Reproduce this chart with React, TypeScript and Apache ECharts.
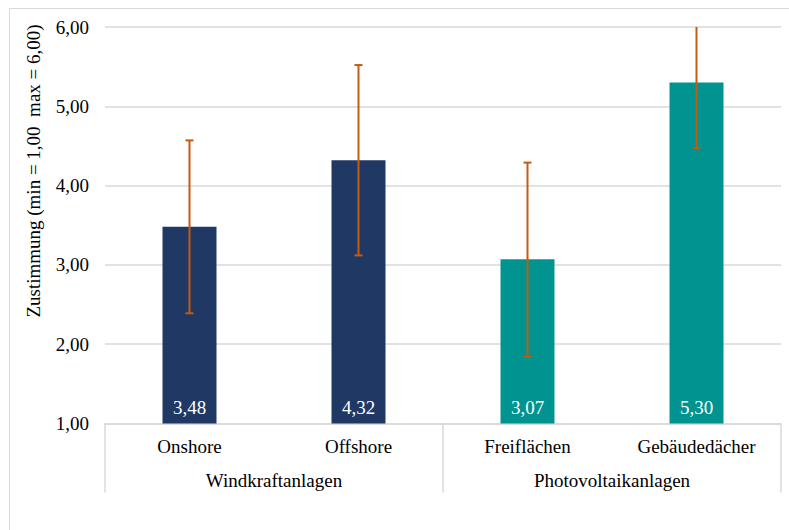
import React, { useEffect, useRef } from "react";
import * as echarts from "echarts";

const categories = ["Onshore", "Offshore", "Freiflächen", "Gebäudedächer"];
const groups = ["Windkraftanlagen", "Photovoltaikanlagen"];
const values = [3.48, 4.32, 3.07, 5.3];
const errLow = [2.39, 3.12, 1.84, 4.47];
const errHigh = [4.57, 5.52, 4.29, 6.13];
const barColors = ["#203864", "#203864", "#00938F", "#00938F"];
const yName = "Zustimmung (min = 1,00  max = 6,00)";
const Y_MIN = 1;
const Y_MAX = 6;

const FONT = "Liberation Serif";
const FS = 19;

export default function App() {
  const ref = useRef<HTMLDivElement>(null);
  useEffect(() => {
    if (!ref.current) return;
    const chart = echarts.init(ref.current, null, { renderer: "svg" });
    const fmt = (v: number) => v.toFixed(2).replace(".", ",");
    chart.setOption({
      animation: false,
      backgroundColor: "#ffffff",
      textStyle: { fontFamily: FONT },
      grid: { left: 105, right: 8, top: 27, bottom: 106.5, containLabel: false },
      graphic: [
        {
          type: "rect",
          shape: { x: 9.5, y: 8.5, width: 800, height: 600 },
          style: { fill: "none", stroke: "#d9d9d9", lineWidth: 1 },
          silent: true,
          z: -10,
        },
        {
          type: "text",
          x: 33,
          y: 171,
          rotation: Math.PI / 2,
          style: {
            text: yName,
            fontFamily: FONT,
            fontSize: FS,
            fill: "#000000",
            align: "center",
            verticalAlign: "middle",
          },
        },
      ],
      xAxis: [
        {
          type: "category",
          data: categories,
          position: "bottom",
          axisLine: { show: true, lineStyle: { color: "#d9d9d9", width: 1.5 } },
          axisTick: { show: false },
          axisLabel: { fontFamily: FONT, fontSize: FS, color: "#000", margin: 13 },
        },
        {
          type: "category",
          data: groups,
          position: "bottom",
          axisLine: { show: false },
          axisTick: { show: true, length: 69, lineStyle: { color: "#d9d9d9", width: 1.5 } },
          axisLabel: { fontFamily: FONT, fontSize: FS, color: "#000", margin: 47 },
        },
      ],
      yAxis: {
        type: "value",
        min: Y_MIN,
        max: Y_MAX,
        interval: 1,
        axisLine: { show: false },
        axisTick: { show: false },
        splitLine: { lineStyle: { color: "#d9d9d9", width: 1.5 } },
        axisLabel: {
          fontFamily: FONT,
          fontSize: FS,
          color: "#000",
          margin: 16,
          formatter: (v: number) => fmt(v),
        },
      },
      series: [
        {
          type: "bar",
          xAxisIndex: 0,
          barWidth: 54,
          data: values.map((v, i) => ({ value: v, itemStyle: { color: barColors[i] } })),
          label: {
            show: true,
            position: "insideBottom",
            distance: 7,
            color: "#ffffff",
            fontFamily: FONT,
            fontSize: FS,
            formatter: (p: any) => fmt(p.value),
          },
          z: 2,
        },
        {
          type: "custom",
          xAxisIndex: 0,
          z: 5,
          data: categories.map((_, i) => [i, errLow[i], errHigh[i]]),
          renderItem: (params: any, api: any) => {
            const idx = api.value(0);
            const lo = api.value(1);
            const hi = api.value(2);
            const hiClip = Math.min(hi, Y_MAX);
            const pLo = api.coord([idx, lo]);
            const pHi = api.coord([idx, hiClip]);
            const style = { stroke: "#C55A11", lineWidth: 2 };
            const half = 4;
            const children: any[] = [
              { type: "line", shape: { x1: pLo[0], y1: pLo[1], x2: pHi[0], y2: pHi[1] }, style },
              { type: "line", shape: { x1: pLo[0] - half, y1: pLo[1], x2: pLo[0] + half, y2: pLo[1] }, style },
            ];
            if (hi <= Y_MAX) {
              children.push({
                type: "line",
                shape: { x1: pHi[0] - half, y1: pHi[1], x2: pHi[0] + half, y2: pHi[1] },
                style,
              });
            }
            return { type: "group", children };
          },
        },
      ],
    });
    return () => chart.dispose();
  }, []);
  return (
    <div
      ref={ref}
      style={{ position: "fixed", left: 0, top: 0, width: 789, height: 530 }}
    />
  );
}
